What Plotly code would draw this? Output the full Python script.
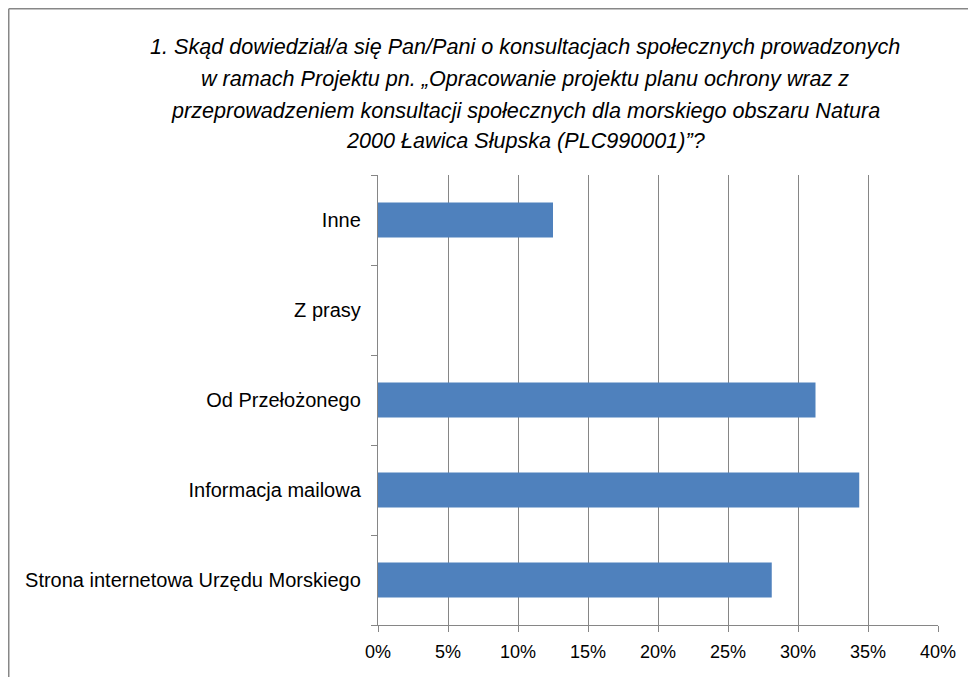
import plotly.graph_objects as go

categories = ["Strona internetowa Urzędu Morskiego", "Informacja mailowa", "Od Przełożonego", "Z prasy", "Inne"]
values = [0.28125, 0.34375, 0.3125, 0.0, 0.125]
x_ticks = [0, 0.05, 0.10, 0.15, 0.20, 0.25, 0.30, 0.35, 0.40]
x_tick_labels = ["0%", "5%", "10%", "15%", "20%", "25%", "30%", "35%", "40%"]
title_lines = [
    "1. Skąd dowiedział/a się Pan/Pani o konsultacjach społecznych prowadzonych",
    "w ramach Projektu pn. „Opracowanie projektu planu ochrony wraz z",
    "przeprowadzeniem konsultacji społecznych dla morskiego obszaru Natura",
    "2000 Ławica Słupska (PLC990001)”?",
]
title_y = [47, 79, 110, 141]

OFF = 8  # page body margin offset
W, H = 976, 677
L = 378 - OFF
T = 175 - OFF
R = W - (938 - OFF)
B = H - (625 - OFF)
pw, ph = W - L - R, H - T - B

def px(x):
    return (x - OFF - L) / pw

def py(y):
    return (H - B - (y - OFF)) / ph

fig = go.Figure(go.Bar(
    x=values, y=categories, orientation="h",
    marker=dict(color="#4F81BD", line=dict(width=0)),
))

grid = "#868686"
fig.update_layout(
    width=W, height=H,
    margin=dict(l=L, r=R, t=T, b=B, pad=0),
    plot_bgcolor="white", paper_bgcolor="white",
    bargap=0.61,
    showlegend=False,
    font=dict(family="Liberation Sans", color="#000000"),
)
fig.update_xaxes(
    range=[0, 0.40], tickvals=x_ticks, ticktext=x_tick_labels,
    showgrid=True, gridcolor=grid, gridwidth=1.4,
    showline=True, linecolor=grid, linewidth=1.4,
    ticks="outside", ticklen=6, tickcolor=grid, tickwidth=1.4,
    tickfont=dict(size=18, family="Liberation Sans"),
    ticklabelstandoff=4,
    zeroline=False,
)
fig.update_yaxes(
    type="category", categoryorder="array", categoryarray=categories,
    tickson="boundaries",
    showgrid=False,
    showline=True, linecolor=grid, linewidth=1.4,
    ticks="outside", ticklen=6, tickcolor=grid, tickwidth=1.4,
    tickfont=dict(size=20, family="Liberation Sans"),
    ticklabelstandoff=12,
)

for line, yy in zip(title_lines, title_y):
    fig.add_annotation(
        x=px(525), y=py(yy), xref="paper", yref="paper",
        text=line, showarrow=False,
        font=dict(size=21.6, family="Liberation Sans", color="#000000", style="italic"),
        align="center", xanchor="center", yanchor="middle",
    )

# chart border (left and top edges visible)
fig.add_shape(type="line", xref="paper", yref="paper",
              x0=px(8.75), x1=px(8.75), y0=py(8.75), y1=py(700),
              line=dict(color="#878787", width=1.5))
fig.add_shape(type="line", xref="paper", yref="paper",
              x0=px(8.75), x1=px(1000), y0=py(8.75), y1=py(8.75),
              line=dict(color="#878787", width=1.5))

fig.write_html("out.html")
